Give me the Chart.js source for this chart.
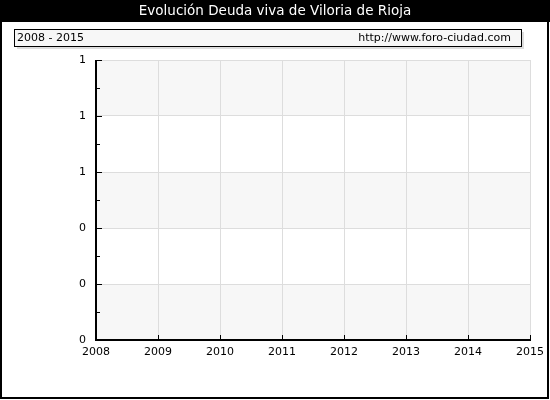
<!DOCTYPE html>
<html>
<head>
<meta charset="utf-8">
<script src="https://cdn.jsdelivr.net/npm/chart.js@4"></script>
<style>
  html, body { margin: 0; padding: 0; background: #fff; }
  #wrap { width: 550px; height: 400px; }
</style>
</head>
<body>
<div id="wrap"><canvas id="grafico" width="550" height="400"></canvas></div>
<script>
// datos de la grafica (sin valores publicados)
const anios = [2008, 2009, 2010, 2011, 2012, 2013, 2014, 2015];
const deudaViva = [null, null, null, null, null, null, null, null];
const ticksY = [0, 0.2, 0.4, 0.6, 0.8, 1];

const titulo = 'Evolución Deuda viva de Viloria de Rioja';
const periodo = '2008 - 2015';
const fuente = 'http://www.foro-ciudad.com';
const FUENTE_TXT = '"DejaVu Sans", Verdana, sans-serif';

// marco, cabecera y recuadro del periodo
const marcoPlugin = {
    id: 'marco',
    beforeDraw(chart) {
        const ctx = chart.ctx;
        const w = chart.width, h = chart.height;
        ctx.save();
        ctx.fillStyle = '#fff';
        ctx.fillRect(0, 0, w, h);
        // bandas alternas
        const y = chart.scales.y, area = chart.chartArea;
        ctx.fillStyle = '#f7f7f7';
        for (let i = ticksY.length - 1; i > 0; i -= 2) {
            const top = y.getPixelForValue(ticksY[i]);
            const bot = y.getPixelForValue(ticksY[i - 1]);
            ctx.fillRect(area.left, top, area.right - area.left, bot - top);
        }
        ctx.restore();
    },
    afterDraw(chart) {
        const ctx = chart.ctx;
        const w = chart.width, h = chart.height;
        const x = chart.scales.x, y = chart.scales.y, area = chart.chartArea;
        ctx.save();
        // cabecera negra
        ctx.fillStyle = '#000';
        ctx.fillRect(0, 0, w, 22);
        ctx.fillStyle = '#fff';
        ctx.font = '13.5px ' + FUENTE_TXT;
        ctx.textAlign = 'center';
        ctx.textBaseline = 'middle';
        ctx.fillText(titulo, w / 2, 11.5);
        // recuadro periodo
        ctx.fillStyle = '#dddddd';
        ctx.fillRect(17, 32, 507, 17);
        ctx.fillStyle = '#f7f7f7';
        ctx.fillRect(14.5, 29.5, 507, 17);
        ctx.strokeStyle = '#000';
        ctx.lineWidth = 1;
        ctx.strokeRect(14.5, 29.5, 507, 17);
        ctx.fillStyle = '#000';
        ctx.font = '11px ' + FUENTE_TXT;
        ctx.textBaseline = 'middle';
        ctx.textAlign = 'left';
        ctx.fillText(periodo, 17, 38.5);
        ctx.textAlign = 'right';
        ctx.fillText(fuente, 511, 38.5);
        // marcas del eje y (mayores y menores, hacia dentro)
        ctx.strokeStyle = '#000';
        ctx.lineWidth = 1;
        ctx.beginPath();
        ticksY.forEach((v, i) => {
            const py = Math.round(y.getPixelForValue(v)) + 0.5;
            ctx.moveTo(area.left, py);
            ctx.lineTo(area.left + 6, py);
            if (i > 0) {
                const pm = Math.round(y.getPixelForValue((v + ticksY[i - 1]) / 2)) + 0.5;
                ctx.moveTo(area.left, pm);
                ctx.lineTo(area.left + 4, pm);
            }
        });
        anios.forEach(a => {
            const px = Math.round(x.getPixelForValue(a)) + 0.5;
            ctx.moveTo(px, area.bottom);
            ctx.lineTo(px, area.bottom - 5);
        });
        ctx.stroke();
        // ejes
        ctx.lineWidth = 2;
        ctx.beginPath();
        ctx.moveTo(area.left, area.top);
        ctx.lineTo(area.left, area.bottom);
        ctx.lineTo(area.right + 1, area.bottom);
        ctx.stroke();
        // borde exterior
        ctx.lineWidth = 2;
        ctx.strokeRect(1, 1, w - 3, h - 3);
        ctx.restore();
    }
};

new Chart(document.getElementById('grafico'), {
    type: 'line',
    data: {
        labels: anios,
        datasets: [{
            label: 'Deuda viva',
            data: deudaViva,
            borderColor: '#3366cc',
            backgroundColor: '#3366cc',
            pointRadius: 0,
            spanGaps: false
        }]
    },
    options: {
        responsive: false,
        animation: false,
        devicePixelRatio: 1,
        layout: { padding: { left: 0, right: 20, top: 60, bottom: 0 } },
        plugins: { legend: { display: false }, tooltip: { enabled: false } },
        scales: {
            x: {
                type: 'linear',
                min: 2008,
                max: 2015,
                afterFit: s => { s.height = 60; },
                grid: { color: '#dddddd', lineWidth: 1, drawTicks: false },
                border: { display: false },
                ticks: {
                    stepSize: 1,
                    padding: 6,
                    color: '#000',
                    font: { family: FUENTE_TXT, size: 11 },
                    maxRotation: 0,
                    callback: v => String(v)
                }
            },
            y: {
                min: 0,
                max: 1,
                afterFit: s => { s.width = 96; },
                grid: { color: '#dddddd', lineWidth: 1, drawTicks: false },
                border: { display: false },
                ticks: {
                    stepSize: 0.2,
                    padding: 10,
                    color: '#000',
                    font: { family: FUENTE_TXT, size: 11 },
                    callback: v => String(Math.round(v))
                }
            }
        }
    },
    plugins: [marcoPlugin]
});
</script>
</body>
</html>
